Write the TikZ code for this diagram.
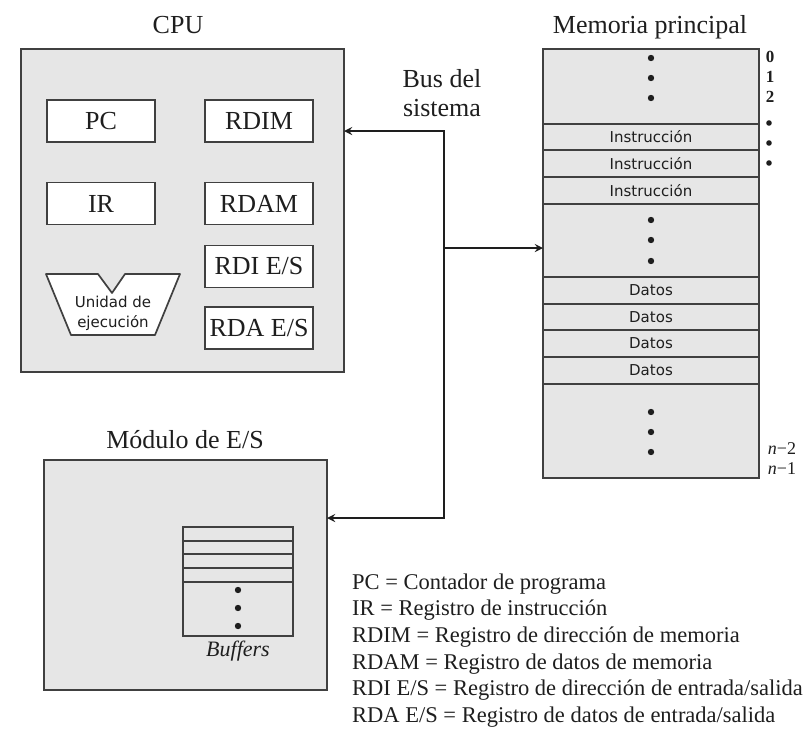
\documentclass[tikz,border=0pt]{standalone}
\usepackage{fontspec}
\setmainfont{Liberation Serif}
\newfontfamily\cellfont{DejaVu Sans}
\usetikzlibrary{positioning}

\definecolor{panel}{HTML}{E6E6E6}
\definecolor{edge}{HTML}{404040}
\definecolor{ink}{HTML}{1E1E1E}

\begin{document}
\begin{tikzpicture}[x=1pt,y=-1pt]

		\tikzstyle{heading}=[font=\fontsize{26}{29}\selectfont,text=ink,inner sep=0pt,align=center]
		\tikzstyle{module}=[rectangle,fill=panel,draw=edge,line width=1.7pt,outer sep=0pt,inner sep=0pt]
		\tikzstyle{register}=[rectangle,fill=white,draw=edge,line width=1.7pt,
			minimum width=108,minimum height=42,inner sep=0pt,
			font=\fontsize{26}{29}\selectfont,text=ink]
		\tikzstyle{cell}=[rectangle,fill=panel,draw=edge,line width=1.7pt,
			minimum width=216,outer sep=0pt,inner sep=0pt,
			font=\cellfont\fontsize{15}{16}\selectfont,text=ink]
		\tikzstyle{slot}=[rectangle,fill=panel,draw=edge,line width=1.7pt,
			minimum width=110,outer sep=0pt,inner sep=0pt]
		\tikzstyle{bus}=[line width=2.6pt,draw=ink,>=stealth]
		\tikzstyle{memdot}=[fill=ink]
		\tikzstyle{index}=[font=\bfseries\fontsize{17}{18}\selectfont,text=ink,inner sep=0pt]

		\useasboundingbox (0,0) rectangle (812,731);

		% CPU
		\node[heading]	(cputitle)	at (178,25)	{CPU};
		\node[module,minimum width=323,minimum height=323]	(cpu)	at (182.5,210.5)	{};
		\node[register]	(pc)	at (101,121)	{PC};
		\node[register]	(rdim)	at (259,121)	{RDIM};
		\node[register]	(ir)	at (101,203.5)	{IR};
		\node[register]	(rdam)	at (259,203.5)	{RDAM};
		\node[register]	(rdies)	at (259,266.5)	{RDI E/S};
		\node[register]	(rdaes)	at (259,328)	{RDA E/S};
		\draw[fill=white,draw=edge,line width=1.7pt,line join=round]
			(46,274) -- (98,274) -- (112,293) -- (125,274) -- (180,274) -- (155,335) -- (71,335) -- cycle;
		\node[font=\cellfont\fontsize{15}{20}\selectfont,text=ink,align=center,inner sep=0pt]	(exec)	at (113,313)	{Unidad de\\ejecución};

		% memoria
		\node[heading]	(memtitle)	at (650,27)	{Memoria principal};
		\node[cell,minimum height=75,anchor=north]	(top)	at (651,49)	{};
		\node[cell,minimum height=26,below=0pt of top]	(ins1)	{Instrucción};
		\node[cell,minimum height=27,below=0pt of ins1]	(ins2)	{Instrucción};
		\node[cell,minimum height=27,below=0pt of ins2]	(ins3)	{Instrucción};
		\node[cell,minimum height=73,below=0pt of ins3]	(mid)	{};
		\node[cell,minimum height=27,below=0pt of mid]	(dat1)	{Datos};
		\node[cell,minimum height=26,below=0pt of dat1]	(dat2)	{Datos};
		\node[cell,minimum height=27,below=0pt of dat2]	(dat3)	{Datos};
		\node[cell,minimum height=27,below=0pt of dat3]	(dat4)	{Datos};
		\node[cell,minimum height=94,below=0pt of dat4]	(bottom)	{};
		\foreach \y in {58,78,98,220,240,261,412,432,452}
			\fill[memdot] (651,\y) circle (3.2pt);
		\node[index]	(n0)	at (770,57)	{0};
		\node[index]	(n1)	at (770,77)	{1};
		\node[index]	(n2)	at (770,97)	{2};
		\foreach \y in {123,143,163}
			\fill[memdot] (769,\y) circle (2.8pt);
		\node[font=\fontsize{18}{20}\selectfont,text=ink,inner sep=0pt]	(nm2)	at (782,449)	{\textit{n}−2};
		\node[font=\fontsize{18}{20}\selectfont,text=ink,inner sep=0pt]	(nm1)	at (782,469)	{\textit{n}−1};

		% modulo E/S
		\node[heading]	(iotitle)	at (185,440)	{Módulo de E/S};
		\node[module,minimum width=283,minimum height=230]	(io)	at (185.5,575)	{};
		\node[slot,minimum height=14,anchor=north]	(buf1)	at (238,527)	{};
		\node[slot,minimum height=13,below=0pt of buf1]	(buf2)	{};
		\node[slot,minimum height=14,below=0pt of buf2]	(buf3)	{};
		\node[slot,minimum height=14,below=0pt of buf3]	(buf4)	{};
		\node[slot,minimum height=54,below=0pt of buf4]	(buf5)	{};
		\foreach \y in {590,608,626}
			\fill[memdot] (238,\y) circle (3.2pt);
		\node[font=\itshape\fontsize{22}{24}\selectfont,text=ink,inner sep=0pt]	(buflabel)	at (238,651)	{Buffers};

		% bus del sistema
		\node[heading]	(bustitle)	at (442,93)	{Bus del\\sistema};
		\coordinate (bustop) at (444,131);
		\coordinate (busmem) at (444,248);
		\coordinate (busio) at (444,518);
		\draw[bus,<->] (cpu.east |- bustop) -- (bustop) -- (busio) -- (io.east |- busio);
		\draw[bus,->] (busmem) -- (mid.west |- busmem);

		% leyenda
		\node[anchor=west,align=left,inner sep=0pt,text=ink,font=\fontsize{22.5}{26.6}\selectfont]	(legend)	at (352,650.5)
			{PC = Contador de programa\\
			IR = Registro de instrucción\\
			RDIM = Registro de dirección de memoria\\
			RDAM = Registro de datos de memoria\\
			RDI E/S = Registro de dirección de entrada/salida\\
			RDA E/S = Registro de datos de entrada/salida};

	\end{tikzpicture}
\end{document}
